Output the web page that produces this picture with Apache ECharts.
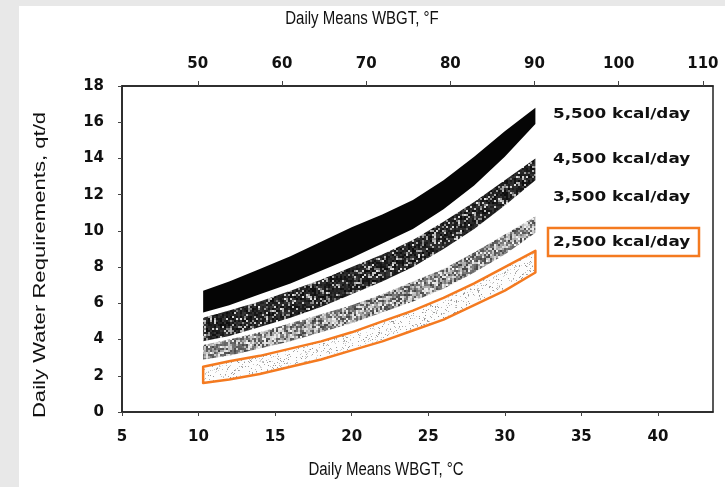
<!DOCTYPE html>
<html>
<head>
<meta charset="utf-8">
<script src="https://cdn.jsdelivr.net/npm/echarts@6.0.0/dist/echarts.min.js"></script>
<style>
  html, body { margin: 0; padding: 0; background: #e8e8e8; }
  #chart { width: 725px; height: 487px; }
</style>
</head>
<body>
<div id="chart"></div>
<script>
// Daily mean WBGT (°C) at which each band edge is sampled
const tempC = [10.3, 12, 14, 16, 18, 20, 22, 24, 26, 28, 30, 32];

// Daily water requirement ranges (qt/d) by energy expenditure
const kcal5500Low  = [5.5, 5.9, 6.5, 7.1, 7.8, 8.5, 9.3, 10.1, 11.2, 12.5, 14.1, 15.9];
const kcal5500High = [6.7, 7.2, 7.9, 8.6, 9.4, 10.2, 10.9, 11.7, 12.8, 14.1, 15.5, 16.8];
const kcal4500Low  = [3.9, 4.2, 4.7, 5.2, 5.8, 6.5, 7.2, 8.0, 9.0, 10.1, 11.4, 12.8];
const kcal4500High = [5.2, 5.6, 6.1, 6.7, 7.3, 8.0, 8.7, 9.5, 10.5, 11.6, 12.8, 14.0];
const kcal3500Low  = [2.9, 3.1, 3.5, 3.9, 4.4, 4.9, 5.5, 6.1, 6.8, 7.7, 8.7, 9.9];
const kcal3500High = [3.7, 4.0, 4.4, 4.9, 5.4, 5.9, 6.5, 7.2, 7.9, 8.8, 9.8, 10.8];
const kcal2500Low  = [1.6, 1.8, 2.1, 2.5, 2.9, 3.4, 3.9, 4.5, 5.1, 5.9, 6.7, 7.7];
const kcal2500High = [2.5, 2.8, 3.1, 3.5, 3.9, 4.4, 5.0, 5.6, 6.3, 7.1, 8.0, 8.9];

const bandLabels = ['5,500 kcal/day', '4,500 kcal/day', '3,500 kcal/day', '2,500 kcal/day'];

// Deterministic grain used for the shaded band textures
function lcg(seed) {
  let s = seed >>> 0;
  return function () {
    s = (Math.imul(s, 1664525) + 1013904223) >>> 0;
    return s / 4294967296;
  };
}
function grain(seed, block, shade) {
  const size = 96;
  const c = document.createElement('canvas');
  c.width = c.height = size;
  const ctx = c.getContext('2d');
  const img = ctx.createImageData(size, size);
  const rnd = lcg(seed);
  for (let by = 0; by < size; by += block) {
    for (let bx = 0; bx < size; bx += block) {
      const v = shade(rnd);
      for (let y = by; y < by + block; y++) {
        for (let x = bx; x < bx + block; x++) {
          const k = (y * size + x) * 4;
          img.data[k] = img.data[k + 1] = img.data[k + 2] = v;
          img.data[k + 3] = 255;
        }
      }
    }
  }
  ctx.putImageData(img, 0, 0);
  return c;
}

const darkGrain = grain(11, 2, r => (r() < 0.78 ? 12 + r() * 45 : 105 + r() * 125));
const midGrain = grain(29, 2, r => (r() < 0.45 ? 65 + r() * 65 : 150 + r() * 95));
const dotGrain = grain(47, 1, r => (r() < 0.11 ? 140 + r() * 80 : 253));

function band(name, low, high, fill, stroke, lineWidth) {
  const rows = tempC.map((t, i) => [t, low[i], high[i]]);
  return {
    type: 'custom',
    name: name,
    coordinateSystem: 'cartesian2d',
    xAxisIndex: 0,
    yAxisIndex: 0,
    data: rows,
    encode: { x: 0, y: [1, 2] },
    silent: true,
    renderItem: function (params, api) {
      if (params.dataIndex !== 0) return null;
      const upper = rows.map(r => api.coord([r[0], r[2]]));
      const lower = rows.map(r => api.coord([r[0], r[1]])).reverse();
      return {
        type: 'polygon',
        shape: { points: upper.concat(lower) },
        style: {
          fill: fill,
          stroke: stroke || null,
          lineWidth: lineWidth || 0,
          lineJoin: 'round'
        }
      };
    }
  };
}

const tickFont = { fontFamily: 'DejaVu Sans', fontWeight: 'bold', fontSize: 15, color: '#111' };
const titleFont = '15px "Liberation Sans", Arial, sans-serif';
const labelFont = 'bold 14px "DejaVu Sans"';
const orange = '#f47a20';

const chart = echarts.init(document.getElementById('chart'), null, { renderer: 'canvas' });
chart.setOption({
  backgroundColor: '#e8e8e8',
  animation: false,
  grid: {
    left: 122, right: 12, top: 86, bottom: 75,
    show: true, borderColor: '#222', borderWidth: 1.5, backgroundColor: 'transparent'
  },
  xAxis: [
    {
      type: 'value', position: 'bottom',
      min: 5, max: 43.6, interval: 5,
      axisLine: { show: true, lineStyle: { color: '#222', width: 1.5 } },
      axisTick: { show: true, inside: false, length: 4, lineStyle: { color: '#444' } },
      axisLabel: Object.assign({ margin: 18, showMaxLabel: false }, tickFont),
      splitLine: { show: false }
    },
    {
      type: 'value', position: 'top',
      min: 41, max: 111.2, splitNumber: 7, minInterval: 10, maxInterval: 10,
      axisLine: { show: true, lineStyle: { color: '#222', width: 1.5 } },
      axisTick: { show: true, inside: false, length: 5, lineStyle: { color: '#444' } },
      axisLabel: Object.assign({ margin: 14, showMinLabel: false, showMaxLabel: false }, tickFont),
      splitLine: { show: false }
    }
  ],
  yAxis: {
    type: 'value', min: 0, max: 18, interval: 2,
    axisLine: { show: true, lineStyle: { color: '#222', width: 1.5 } },
    axisTick: { show: true, inside: false, length: 4, lineStyle: { color: '#444' } },
    axisLabel: Object.assign({ margin: 18 }, tickFont),
    splitLine: { show: false }
  },
  series: [
    band(bandLabels[0], kcal5500Low, kcal5500High, '#050505'),
    band(bandLabels[1], kcal4500Low, kcal4500High, { image: darkGrain, repeat: 'repeat' }),
    band(bandLabels[2], kcal3500Low, kcal3500High, { image: midGrain, repeat: 'repeat' }),
    band(bandLabels[3], kcal2500Low, kcal2500High, { image: dotGrain, repeat: 'repeat' }, orange, 2.5)
  ],
  graphic: [
    { type: 'rect', z: -10, silent: true, shape: { x: 19, y: 6, width: 706, height: 481 }, style: { fill: '#ffffff' } },
    { type: 'text', x: 362, y: 19, scaleY: 1.2, style: { text: 'Daily Means WBGT, °F', font: titleFont, fill: '#111', align: 'center', verticalAlign: 'middle' } },
    { type: 'text', x: 386, y: 470, scaleY: 1.2, style: { text: 'Daily Means WBGT, °C', font: titleFont, fill: '#111', align: 'center', verticalAlign: 'middle' } },
    { type: 'text', x: 40, y: 265, rotation: Math.PI / 2, scaleX: 1.3, style: { text: 'Daily Water Requirements, qt/d', font: '17px "Liberation Sans", Arial, sans-serif', fill: '#111', align: 'center', verticalAlign: 'middle' } },
    { type: 'text', x: 553, y: 114, scaleX: 1.2, style: { text: bandLabels[0], font: labelFont, fill: '#111', align: 'left', verticalAlign: 'middle' } },
    { type: 'text', x: 553, y: 159, scaleX: 1.2, style: { text: bandLabels[1], font: labelFont, fill: '#111', align: 'left', verticalAlign: 'middle' } },
    { type: 'text', x: 553, y: 197, scaleX: 1.2, style: { text: bandLabels[2], font: labelFont, fill: '#111', align: 'left', verticalAlign: 'middle' } },
    { type: 'text', x: 553, y: 242, scaleX: 1.2, style: { text: bandLabels[3], font: labelFont, fill: '#111', align: 'left', verticalAlign: 'middle' } },
    { type: 'rect', shape: { x: 548, y: 228, width: 151, height: 28 }, style: { fill: 'none', stroke: orange, lineWidth: 2.5 } }
  ]
});
</script>
</body>
</html>
